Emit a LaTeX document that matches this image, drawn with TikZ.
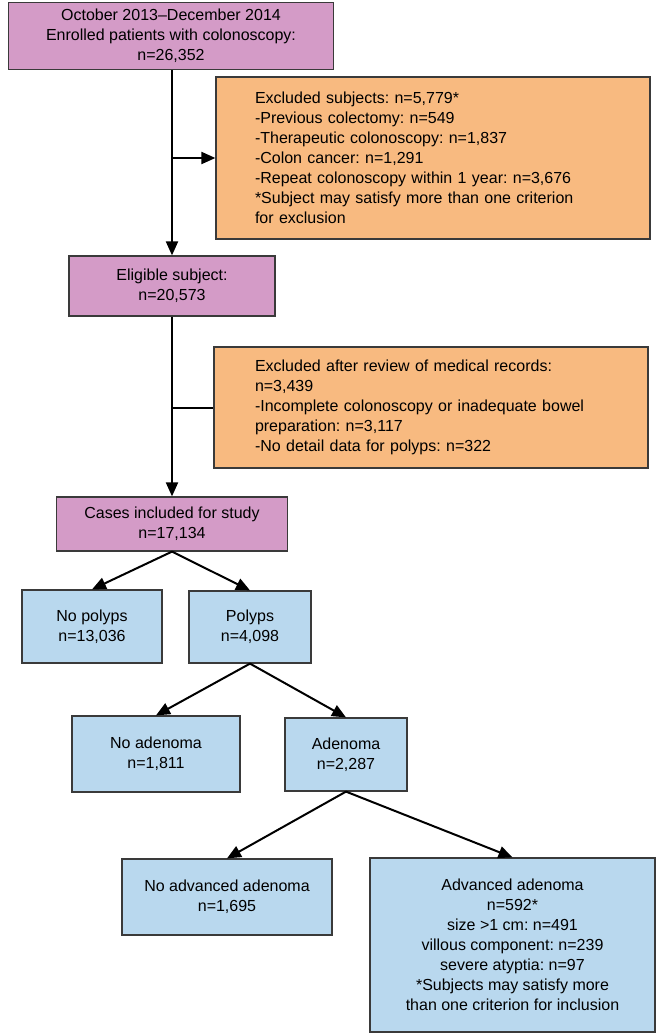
\documentclass[tikz,border=0pt]{standalone}
\usepackage{fontspec}
\setmainfont{Liberation Sans}
\frenchspacing
\definecolor{boxPurple}{HTML}{D49BC7}
\definecolor{boxOrange}{HTML}{F8BA80}
\definecolor{boxBlue}{HTML}{B9D8EE}
\definecolor{edgeColor}{HTML}{3A3A3A}
\definecolor{bgColor}{HTML}{ffffff}
\usetikzlibrary{arrows.meta}
\begin{document}
\begin{tikzpicture}
\tikzset{x=1pt,y=-1pt}
\tikzset{
  flowbox/.style={draw=edgeColor, line width=1.2pt, inner sep=0pt, font=\fontsize{16}{20}\selectfont, align=center},
  enrollbox/.style={flowbox, fill=boxPurple},
  exclbox/.style={flowbox, fill=boxOrange, align=left},
  groupbox/.style={flowbox, fill=boxBlue},
  flowline/.style={line width=2pt, color=black},
  flowarrow/.style={flowline, -{Triangle[length=14pt,width=12pt]}}
}
\useasboundingbox (0,0) rectangle (662,1034);
\fill[bgColor] (0,0) rectangle (662,1034);
\node[enrollbox, minimum width=325pt, minimum height=67pt] (enrolled) at (171,36) {October 2013–December 2014\\Enrolled patients with colonoscopy:\\n=26,352};
\node[exclbox, text width=356pt, inner xsep=39pt, minimum height=162pt] (exclA) at (433,158) {Excluded subjects: n=5,779*\\-Previous colectomy: n=549\\-Therapeutic colonoscopy: n=1,837\\-Colon cancer: n=1,291\\-Repeat colonoscopy within 1 year: n=3,676\\{}*Subject may satisfy more than one criterion\\for exclusion};
\node[enrollbox, minimum width=206pt, minimum height=60pt] (eligible) at (172,286) {Eligible subject:\\n=20,573};
\node[exclbox, text width=352pt, inner xsep=41pt, minimum height=121pt] (exclB) at (431,407.5) {Excluded after review of medical records:\\n=3,439\\-Incomplete colonoscopy or inadequate bowel\\preparation: n=3,117\\-No detail data for polyps: n=322};
\node[enrollbox, minimum width=231pt, minimum height=54pt] (cases) at (172,524) {Cases included for study\\n=17,134};
\node[groupbox, minimum width=140pt, minimum height=73pt] (nopolyps) at (92,626.5) {No polyps\\n=13,036};
\node[groupbox, minimum width=122pt, minimum height=72pt] (polyps) at (250,627) {Polyps\\n=4,098};
\node[groupbox, minimum width=168pt, minimum height=76pt] (noadenoma) at (156,754) {No adenoma\\n=1,811};
\node[groupbox, minimum width=122pt, minimum height=73pt] (adenoma) at (346,754.5) {Adenoma\\n=2,287};
\node[groupbox, minimum width=210pt, minimum height=76pt] (noadvanced) at (227,897) {No advanced adenoma\\n=1,695};
\node[groupbox, minimum width=285pt, minimum height=174pt] (advanced) at (512.5,945) {Advanced adenoma\\n=592*\\size >1 cm: n=491\\villous component: n=239\\severe atyptia: n=97\\{}*Subjects may satisfy more\\than one criterion for inclusion};
\draw[flowarrow] (eligible.north |- enrolled.south) -- (eligible.north);
\draw[flowarrow] (eligible.north |- exclA.west) -- (exclA.west);
\draw[flowarrow] (eligible.south) -- (cases.north);
\draw[flowline] (eligible.south |- exclB.west) -- (exclB.west);
\draw[flowarrow] (cases.south) -- (nopolyps.north);
\draw[flowarrow] (cases.south) -- (polyps.north);
\draw[flowarrow] (polyps.south) -- (noadenoma.north);
\draw[flowarrow] (polyps.south) -- (adenoma.north);
\draw[flowarrow] (adenoma.south) -- (noadvanced.north);
\draw[flowarrow] (adenoma.south) -- (advanced.north);
\end{tikzpicture}
\end{document}
